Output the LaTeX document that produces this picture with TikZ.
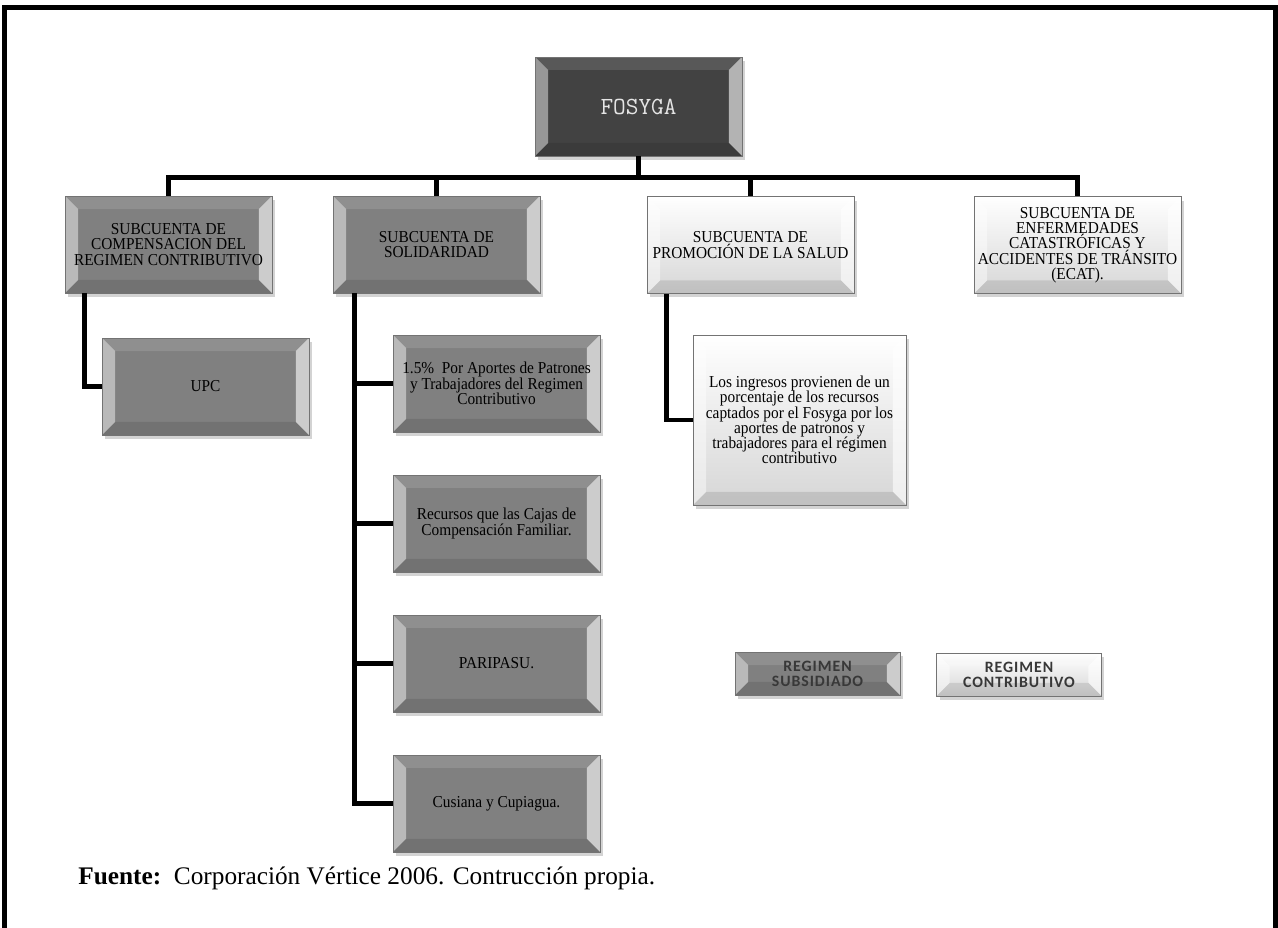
\documentclass[tikz,border=0pt]{standalone}
\usepackage{fontspec}
\setmainfont{Liberation Serif}
\newfontfamily\boxfont[FakeStretch=0.92]{Liberation Serif}
\newfontfamily\keyfont[LetterSpace=6]{Carlito}
\newfontfamily\topfont{Latin Modern Mono}
\usetikzlibrary{shapes,arrows,shadows}
\definecolor{darkbox}{gray}{0.26}
\definecolor{midbox}{gray}{0.50}
\definecolor{lightbox}{gray}{0.84}
\definecolor{keytext}{gray}{0.22}
\def\bev{0.26cm}
\tikzstyle{bevel} = [path picture={
    \path (path picture bounding box.north west) coordinate (bnw)
          (path picture bounding box.south east) coordinate (bse);
    \fill[white,opacity=.12] (bnw) -- (bnw -| bse) -- ([shift={(-\bev,-\bev)}]bnw -| bse) -- ([shift={(\bev,-\bev)}]bnw) -- cycle;
    \fill[white,opacity=.45] (bnw) -- ([shift={(\bev,-\bev)}]bnw) -- ([shift={(\bev,\bev)}]bnw |- bse) -- (bnw |- bse) -- cycle;
    \fill[white,opacity=.6] (bnw -| bse) -- (bse) -- ([shift={(-\bev,\bev)}]bse) -- ([shift={(-\bev,-\bev)}]bnw -| bse) -- cycle;
    \fill[black,opacity=.1] (bnw |- bse) -- ([shift={(\bev,\bev)}]bnw |- bse) -- ([shift={(-\bev,\bev)}]bse) -- (bse) -- cycle;
  }]
\tikzstyle{base} = [rectangle, draw=black!55, line width=0.4pt, inner sep=1pt, align=center, bevel,
  drop shadow={opacity=0.35, shadow xshift=0.06cm, shadow yshift=-0.08cm}]
\tikzstyle{topbox} = [base, fill=darkbox, text=black!10, minimum width=4.14cm, minimum height=1.98cm,
  font=\topfont\fontsize{14}{16}\selectfont]
\tikzstyle{subbox} = [base, fill=midbox, minimum width=4.14cm, minimum height=1.94cm,
  font=\boxfont\fontsize{9.5}{8.7}\selectfont]
\tikzstyle{conbox} = [base, top color=white, bottom color=lightbox, minimum width=4.14cm, minimum height=1.94cm,
  font=\boxfont\fontsize{9.5}{8.7}\selectfont]
\tikzstyle{keybox} = [base, minimum width=3.3cm, minimum height=0.86cm, text=keytext,
  font=\keyfont\bfseries\fontsize{9}{8.5}\selectfont]
\tikzstyle{conn} = [line width=2.6pt]

\begin{document}
\begin{tikzpicture}[x=0.02cm, y=-0.02cm, node distance=2.8cm]
    \useasboundingbox (0,0) rectangle (1278,928);
    \draw [line width=0.1cm] (4.5,928) -- (4.5,8) -- (1275.5,8) -- (1275.5,928);
 % nodes
    \node [topbox, name=fosyga] at (638.5,106.5) {FOSYGA};
    \node [subbox, name=compensacion] at (168.5,244.5) {SUBCUENTA DE\\COMPENSACION DEL\\REGIMEN CONTRIBUTIVO};
    \node [subbox, name=solidaridad] at (436.5,244.5) {SUBCUENTA DE\\SOLIDARIDAD};
    \node [conbox, name=promocion] at (750.5,245) {SUBCUENTA DE\\PROMOCIÓN DE LA SALUD};
    \node [conbox, name=ecat] at (1077.5,245) {SUBCUENTA DE\\ENFERMEDADES\\CATASTRÓFICAS Y\\ACCIDENTES DE TRÁNSITO\\(ECAT).};
    \node [subbox, name=upc] at (205.5,386.5) {UPC};
    \node [subbox, name=aportes] at (496.5,383.5) {1.5\%\ \ Por Aportes de Patrones\\y Trabajadores del Regimen\\Contributivo};
    \node [subbox, below of=aportes, name=recursos] {Recursos que las Cajas de\\Compensación Familiar.};
    \node [subbox, below of=recursos, name=paripasu] {PARIPASU.};
    \node [subbox, below of=paripasu, name=cusiana] {Cusiana y Cupiagua.};
    \node [conbox, minimum width=4.26cm, minimum height=3.4cm, name=ingresos] at (799.5,420) {Los ingresos provienen de un\\porcentaje de los recursos\\captados por el Fosyga por los\\aportes de patronos y\\trabajadores para el régimen\\contributivo};
    \node [keybox, fill=midbox, name=subsidiado] at (817.5,673.5) {REGIMEN\\SUBSIDIADO};
    \node [keybox, top color=white, bottom color=lightbox, name=contributivo] at (1019,674.5) {REGIMEN\\CONTRIBUTIVO};
    \node [anchor=base west, inner sep=0, font=\fontsize{14.4}{17}\selectfont, name=fuente] at (78,884) {\textbf{Fuente:}\ \ Corporación Vértice 2006. Contrucción propia.};
 % edges
    \draw [conn] (fosyga.south) -- ++(0,21) -| (compensacion.north);
    \draw [conn] (fosyga.south) -- ++(0,21) -| (solidaridad.north);
    \draw [conn] (fosyga.south) -- ++(0,21) -| (promocion.north);
    \draw [conn] (fosyga.south) -- ++(0,21) -| (ecat.north);
    \draw [conn] ([xshift=0.4cm]compensacion.south west) |- (upc.west);
    \foreach \n in {aportes,recursos,paripasu,cusiana}
        \draw [conn] ([xshift=0.44cm]solidaridad.south west) |- (\n.west);
    \draw [conn] ([xshift=0.4cm]promocion.south west) |- (ingresos.west);
\end{tikzpicture}
\end{document}
